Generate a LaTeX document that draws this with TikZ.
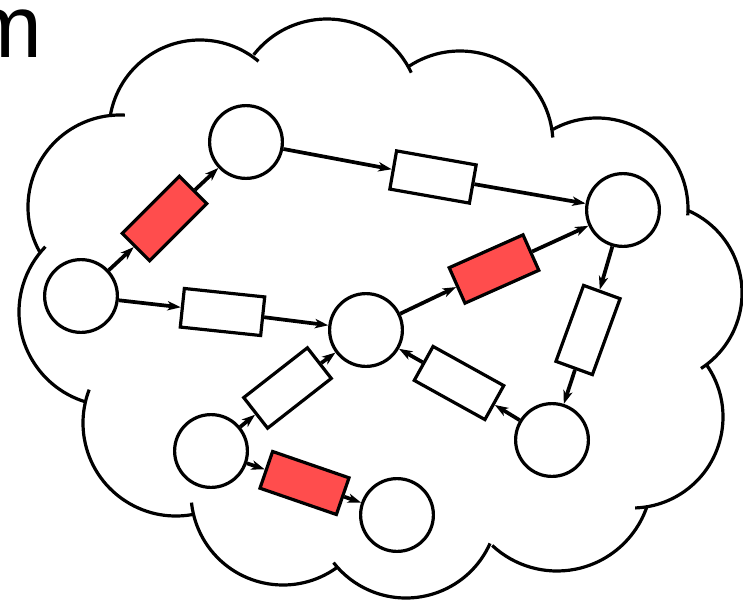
\documentclass[tikz,border=0pt]{standalone}
\usepackage{fontspec}
\newfontfamily\arialfont{Liberation Sans}
\usetikzlibrary{arrows.meta}
\definecolor{tred}{RGB}{255,77,77}
\begin{document}
\begin{tikzpicture}[x=0.75pt,y=0.75pt,
  place/.style={circle,draw=black,line width=2.4pt,fill=white,minimum size=54.6pt,inner sep=0pt},
  trans/.style={rectangle,draw=black,line width=2.4pt,fill=white,minimum width=60.6pt,minimum height=29.1pt,inner sep=0pt},
  redtrans/.style={trans,fill=tred},
  conn/.style={line width=2.8pt,-{Stealth[length=10pt,width=7pt,inset=2.8pt]}},
  cloudarc/.style={line width=2.4pt}]
\useasboundingbox (0,0) rectangle (743,-603);
% partial title letter
\node[anchor=base west,inner sep=0pt,font=\arialfont\fontsize{66.5}{70}\selectfont] (title) at (-31.6,-57) {m};
% cloud
\draw[cloudarc] (200,-131) ++(171:91) arc[start angle=171,end angle=50,radius=91];
\draw[cloudarc] (327,-112) ++(142:93) arc[start angle=142,end angle=25,radius=93];
\draw[cloudarc] (460,-144) ++(123:93) arc[start angle=123,end angle=4,radius=93];
\draw[cloudarc] (597,-209) ++(119:91) arc[start angle=119,end angle=-4,radius=91];
\draw[cloudarc] (652,-293) ++(67:90) arc[start angle=67,end angle=-57,radius=90];
\draw[cloudarc] (632,-417) ++(35:91) arc[start angle=35,end angle=-88,radius=91];
\draw[cloudarc] (557,-476) ++(-19:95) arc[start angle=-19,end angle=-133,radius=95];
\draw[cloudarc] (406,-506) ++(-24:92) arc[start angle=-24,end angle=-142,radius=92];
\draw[cloudarc] (283,-493) ++(-54:92) arc[start angle=-54,end angle=-174,radius=92];
\draw[cloudarc] (176,-423) ++(280:93) arc[start angle=280,end angle=159,radius=93];
\draw[cloudarc] (113,-312) ++(253:94) arc[start angle=253,end angle=136,radius=94];
\draw[cloudarc] (120,-207) ++(209:92) arc[start angle=209,end angle=87,radius=92];
% places
\node[place] (p1) at (81,-296) {};
\node[place] (p2) at (246,-142) {};
\node[place] (p3) at (623,-210) {};
\node[place] (p4) at (366,-330) {};
\node[place] (p5) at (552,-440) {};
\node[place] (p6) at (211,-451) {};
\node[place] (p7) at (397,-515) {};
% transitions
\node[redtrans,rotate=45] (t1) at (164.5,-218.5) {};
\node[trans,rotate=-10] (t2) at (433,-177) {};
\node[redtrans,rotate=24] (t3) at (494,-269) {};
\node[trans,rotate=70] (t4) at (588,-330) {};
\node[trans,rotate=-29] (t5) at (459,-383) {};
\node[trans,rotate=38] (t6) at (287.5,-388) {};
\node[redtrans,rotate=-19] (t7) at (304.5,-483) {};
\node[trans,rotate=-6] (t8) at (222.5,-312) {};
% arcs
\draw[conn] (p1) -- (t1);
\draw[conn] (t1) -- (p2);
\draw[conn] (p2) -- (t2);
\draw[conn] (t2) -- (p3);
\draw[conn] (p1) -- (t8);
\draw[conn] (t8) -- (p4);
\draw[conn] (p4) -- (t3);
\draw[conn] (t3) -- (p3);
\draw[conn] (p3) -- (t4);
\draw[conn] (t4) -- (p5);
\draw[conn] (p5) -- (t5);
\draw[conn] (t5) -- (p4);
\draw[conn] (p6) -- (t6);
\draw[conn] (t6) -- (p4);
\draw[conn] (p6) -- (t7);
\draw[conn] (t7) -- (p7);
\end{tikzpicture}
\end{document}
